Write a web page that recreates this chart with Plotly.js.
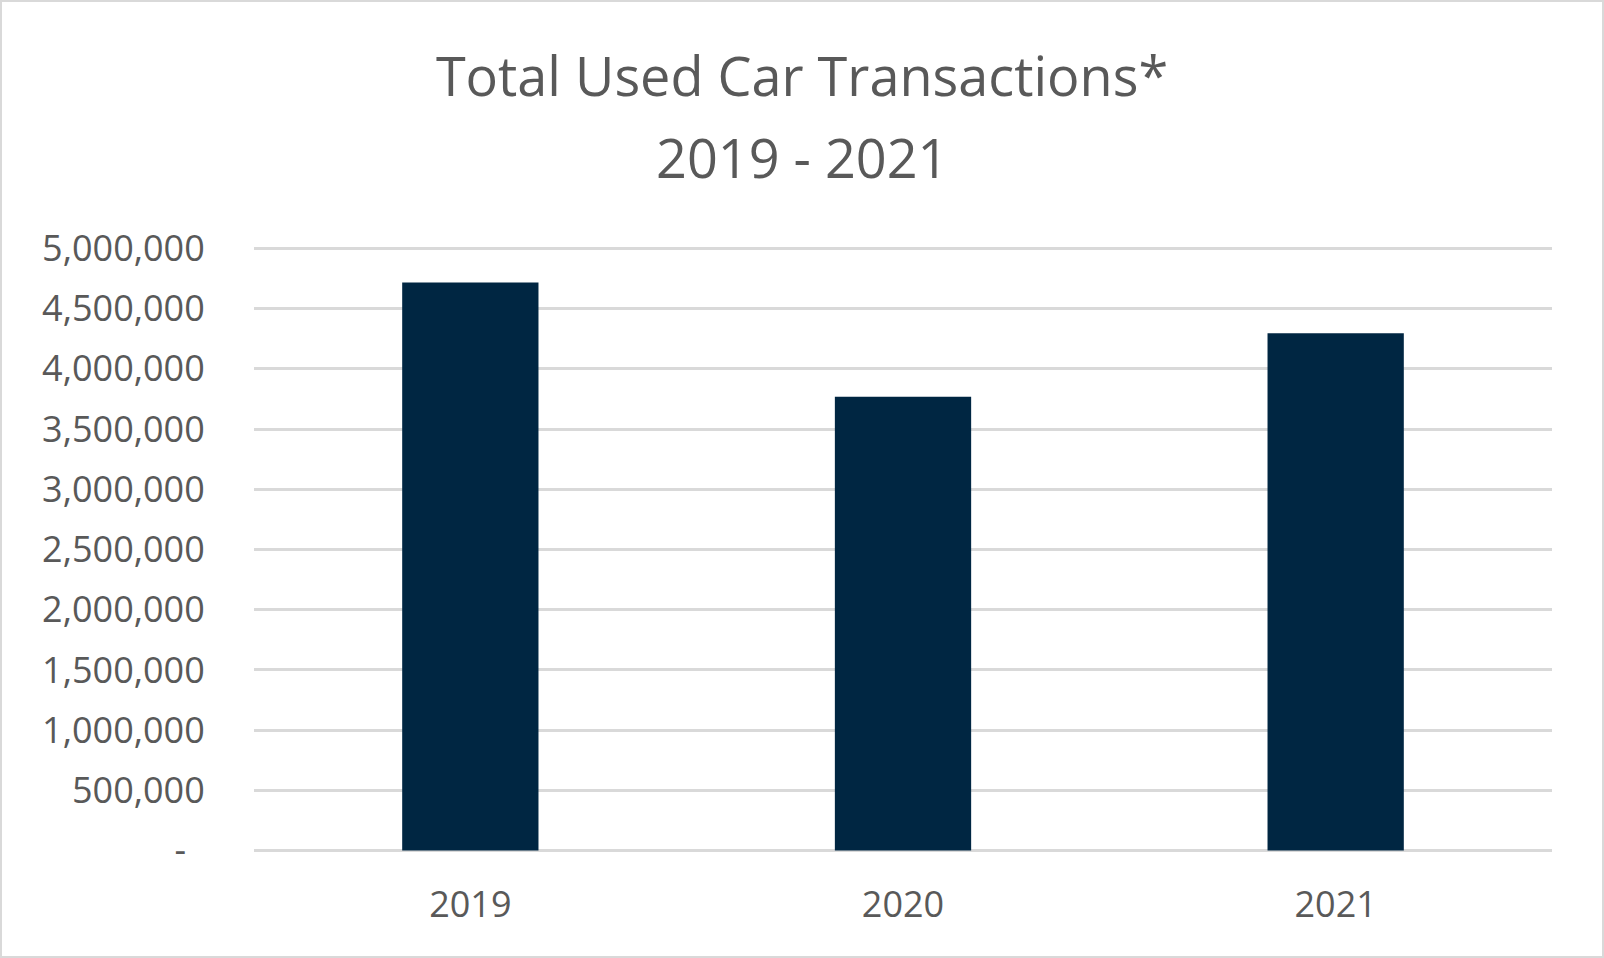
<!DOCTYPE html>
<html>
<head>
<meta charset="utf-8">
<script src="https://cdn.plot.ly/plotly-3.0.1.min.js"></script>
<style>
  html, body { margin: 0; padding: 0; background: #ffffff; }
  #chart { width: 1604px; height: 958px; box-sizing: border-box; border: 2px solid #d9d9d9; }
</style>
</head>
<body>
<div id="chart"></div>
<script>
const categories = ["2019", "2020", "2021"];
const transactions = [4717000, 3769000, 4295000];
const tickValues = [0, 500000, 1000000, 1500000, 2000000, 2500000, 3000000, 3500000, 4000000, 4500000, 5000000];
const tickLabels = ["-\u00a0\u00a0", "500,000", "1,000,000", "1,500,000", "2,000,000", "2,500,000", "3,000,000", "3,500,000", "4,000,000", "4,500,000", "5,000,000"];
const titleLine1 = "Total Used Car Transactions*";
const titleLine2 = "2019 - 2021";

const W = 1600, H = 954;
const M = { l: 252, r: 50, t: 244, b: 103 };
const plotH = H - M.t - M.b;

const trace = {
  type: "bar",
  x: categories,
  y: transactions,
  width: 0.315,
  marker: { color: "#002642" },
  hoverinfo: "x+y"
};

const line1Px = 75;  // from top of container
const line2Px = 155; // from top of container
const layout = {
  width: W,
  height: H,
  paper_bgcolor: "#ffffff",
  plot_bgcolor: "#ffffff",
  font: { family: "Open Sans, sans-serif", color: "#595959", size: 36 },
  margin: M,
  title: {
    text: titleLine1,
    font: { family: "Open Sans, sans-serif", size: 54, color: "#595959" },
    x: 0.5,
    xanchor: "center",
    xref: "container",
    yref: "container",
    y: 1 - line1Px / H,
    yanchor: "middle"
  },
  annotations: [{
    text: titleLine2,
    showarrow: false,
    xref: "paper",
    yref: "paper",
    x: (W / 2 - M.l) / (W - M.l - M.r),
    xanchor: "center",
    y: (H - M.b - line2Px) / plotH,
    yanchor: "middle",
    font: { family: "Open Sans, sans-serif", size: 54, color: "#595959" }
  }],
  xaxis: {
    type: "category",
    showgrid: false,
    zeroline: false,
    showline: false,
    ticks: "outside",
    ticklen: 20,
    tickcolor: "rgba(0,0,0,0)",
    tickfont: { size: 36, color: "#595959" }
  },
  yaxis: {
    range: [-20000, 5020000],
    tickmode: "array",
    tickvals: tickValues,
    ticktext: tickLabels,
    showgrid: true,
    gridcolor: "#d9d9d9",
    gridwidth: 2.5,
    zeroline: false,
    showline: false,
    ticks: "outside",
    ticklen: 41,
    tickcolor: "rgba(0,0,0,0)",
    tickfont: { size: 36, color: "#595959" }
  },
  showlegend: false
};

Plotly.newPlot("chart", [trace], layout, { displayModeBar: false, responsive: false });
</script>
</body>
</html>
